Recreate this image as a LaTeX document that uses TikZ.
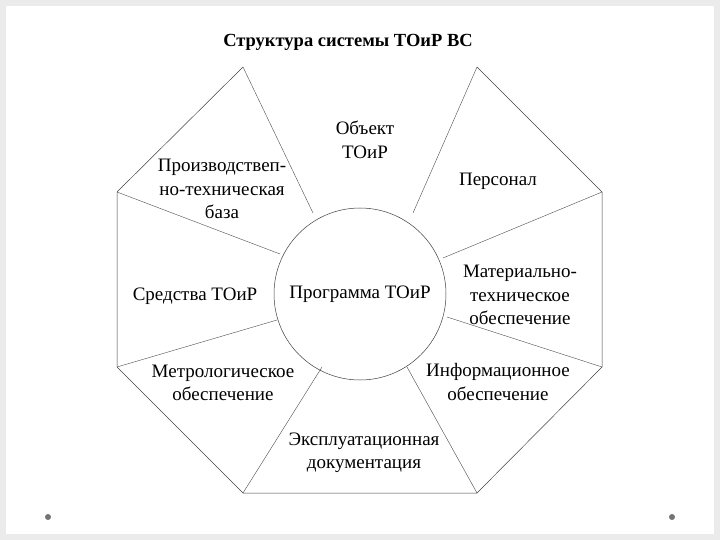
\documentclass[tikz,border=0pt]{standalone}
\usepackage{fontspec}
\setmainfont{Liberation Serif}
\begin{document}
\begin{tikzpicture}[x=1pt,y=-1pt,
  edge/.style={draw=black!75,line width=0.5pt},
  spoke/.style={draw=black!70,line width=0.4pt},
  lbl/.style={align=center,font=\fontsize{19}{23.5}\selectfont,inner sep=0pt}]
\fill[black!8] (0,0) rectangle (720,540);
\fill[white] (6,6) rectangle (714,534);
\useasboundingbox (0,0) rectangle (720,540);
\fill[black!55] (48,517) circle (3);
\fill[black!55] (672,517) circle (3);
\node[font=\fontsize{18.5}{20}\selectfont\bfseries] (title) at (348,42) {Структура системы ТОиР ВС};
\coordinate (v1) at (243,67); \coordinate (v2) at (477,67);
\coordinate (v3) at (602,192); \coordinate (v4) at (602,367);
\coordinate (v5) at (477,493); \coordinate (v6) at (243,493);
\coordinate (v7) at (117,367); \coordinate (v8) at (117,192);
\draw[edge] (v2)--(v3)--(v4)--(v5)--(v6)--(v7)--(v8)--(v1);
\node[draw=black!75,line width=0.5pt,circle,minimum size=172pt,inner sep=0pt,
  font=\fontsize{19}{23}\selectfont] (c) at (360,294) {Программа ТОиР};
\draw[spoke] (v1)--(313,213); \draw[spoke] (v2)--(413,213);
\draw[spoke] (v8)--(280,254); \draw[spoke] (v3)--(443,258);
\draw[spoke] (v7)--(277,320); \draw[spoke] (v4)--(447,317);
\draw[spoke] (v6)--(322,367); \draw[spoke] (v5)--(407,367);
\node[lbl] (a) at (365,140) {Объект\\ТОиР};
\node[lbl] (b) at (498,181) {Персонал};
\node[lbl] (d) at (222,189) {Производствеп-\\но-техническая\\база};
\node[lbl] (e) at (520,295) {Материально-\\техническое\\обеспечение};
\node[lbl] (f) at (195,296) {Средства ТОиР};
\node[lbl] (g) at (498,382) {Информационное\\обеспечение};
\node[lbl] (h) at (223,383) {Метрологическое\\обеспечение};
\node[lbl] (i) at (364,453) {Эксплуатационная\\документация};
\end{tikzpicture}
\end{document}
